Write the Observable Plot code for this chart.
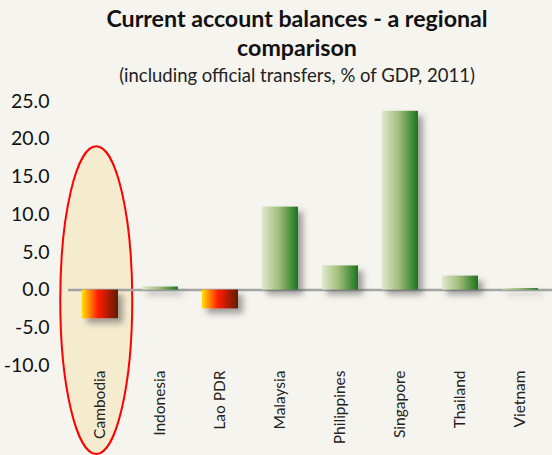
<!DOCTYPE html>
<html>
<head>
<meta charset="utf-8">
<script src="https://cdn.jsdelivr.net/npm/d3@7"></script>
<script src="https://cdn.jsdelivr.net/npm/@observablehq/plot@0.6"></script>
<style>
  html, body { margin: 0; padding: 0; background: #f5f4ef; width: 552px; height: 455px; overflow: hidden; }
  #head { height: 88px; box-sizing: border-box; padding-left: 42px; text-align: center; font-family: Lato, "Open Sans", sans-serif; color: #111; }
  #title { font-weight: bold; font-size: 23.2px; line-height: 29px; padding-top: 4px; }
  #subtitle { font-size: 18.5px; line-height: 22px; margin-top: 2px; color: #222; }
</style>
</head>
<body>
<div id="head">
  <div id="title">Current account balances - a regional<br>comparison</div>
  <div id="subtitle">(including official transfers, % of GDP, 2011)</div>
</div>
<div id="chart"></div>
<script>
const countries = ["Cambodia", "Indonesia", "Lao PDR", "Malaysia", "Philippines", "Singapore", "Thailand", "Vietnam"];
const balances = [-3.8, 0.4, -2.5, 11.0, 3.2, 23.7, 1.85, 0.2];
const yTicks = [-10, -5, 0, 5, 10, 15, 20, 25];
const highlight = "Cambodia";

const data = countries.map((c, i) => ({country: c, value: balances[i]}));
const fmt = d => d3.format(".1f")(d).replace("\u2212", "-");

const plot = Plot.plot({
  width: 552,
  height: 367,
  marginTop: 13,
  marginBottom: 90,
  marginLeft: 68,
  marginRight: 0,
  style: {background: "transparent", fontFamily: "Lato, 'Open Sans', sans-serif"},
  x: {domain: countries, paddingInner: 0.4, paddingOuter: 0.2, label: null},
  y: {domain: [-10, 25], label: null},
  marks: [
    Plot.axisY({ticks: yTicks, tickFormat: fmt, tickSize: 0, tickPadding: 19, fontSize: 19.5, color: "#111", label: null}),
    Plot.ruleY([0], {stroke: "#a3a3a3", strokeWidth: 2.5}),
    Plot.barY(data.filter(d => d.value < 0), {x: "country", y: "value", fill: "url(#gradNeg)"}),
    Plot.barY(data.filter(d => d.value >= 0), {x: "country", y: "value", fill: "url(#gradPos)"}),
    Plot.axisX({tickSize: 0, tickPadding: 5, tickRotate: -90, fontSize: 15.5, color: "#222", label: null})
  ]
});

document.getElementById("chart").appendChild(plot);

const svg = d3.select(plot);
const defs = svg.insert("defs", ":first-child");
const gn = defs.append("linearGradient").attr("id", "gradNeg").attr("x1", "0").attr("x2", "1").attr("y1", "0").attr("y2", "0");
gn.append("stop").attr("offset", "0").attr("stop-color", "#ffe000");
gn.append("stop").attr("offset", "0.45").attr("stop-color", "#ff1a00");
gn.append("stop").attr("offset", "1").attr("stop-color", "#5e1f00");
const gp = defs.append("linearGradient").attr("id", "gradPos").attr("x1", "0").attr("x2", "1").attr("y1", "0").attr("y2", "0");
gp.append("stop").attr("offset", "0").attr("stop-color", "#dfe9cf");
gp.append("stop").attr("offset", "0.45").attr("stop-color", "#a3bf7c");
gp.append("stop").attr("offset", "1").attr("stop-color", "#1c741c");
const f = defs.append("filter").attr("id", "shadow").attr("x", "-30%").attr("y", "-30%").attr("width", "170%").attr("height", "170%");
f.append("feDropShadow").attr("dx", 5).attr("dy", 5).attr("stdDeviation", 3).attr("flood-color", "#555").attr("flood-opacity", 0.55);

svg.selectAll("g[aria-label='bar']").attr("filter", "url(#shadow)");

// highlight ellipse around the highlighted country, placed via scales
const xs = plot.scale("x");
const ys = plot.scale("y");
const xScale = d3.scaleBand().domain(xs.domain).range(xs.range).paddingInner(xs.paddingInner).paddingOuter(xs.paddingOuter).align(xs.align);
const cx = xScale(highlight) + xScale.bandwidth() / 2 - 2;
const yTop = ys.apply(19.0);
const yBot = ys.apply(-21.8);
const ruleNode = svg.select("g[aria-label='rule']").node();
svg.insert("ellipse", () => ruleNode)
  .attr("cx", cx)
  .attr("cy", (yTop + yBot) / 2)
  .attr("rx", 36)
  .attr("ry", (yBot - yTop) / 2)
  .attr("fill", "#f5ebcf")
  .attr("stroke", "#ff0000")
  .attr("stroke-width", 2);
</script>
</body>
</html>
